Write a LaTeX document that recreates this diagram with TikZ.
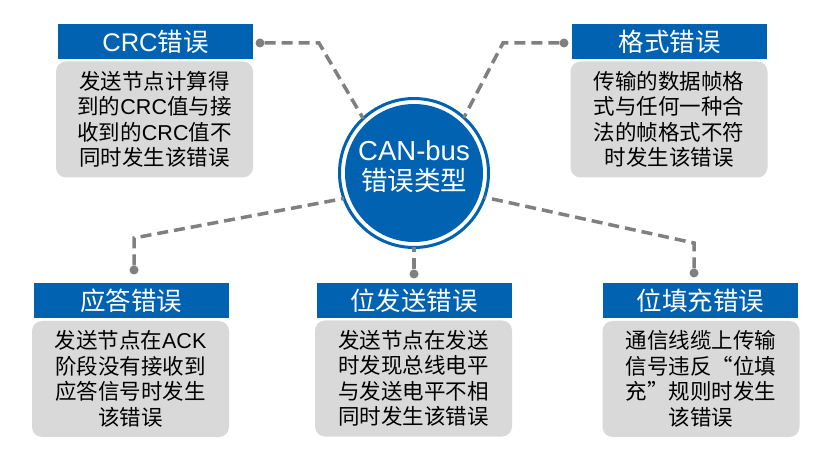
\documentclass[tikz,border=0pt]{standalone}
\usepackage{fontspec}
\setmainfont{Liberation Sans}
\newfontfamily\cjk{Noto Sans CJK SC}
\newfontfamily\lat{Liberation Sans}
\definecolor{mainblue}{RGB}{0,98,176}
\definecolor{boxgray}{RGB}{217,217,217}
\definecolor{linegray}{RGB}{128,128,128}
\begin{document}
\begin{tikzpicture}[x=1pt,y=-1pt,
 titlebar/.style={rectangle, fill=mainblue, text=white, minimum width=195pt, minimum height=35pt, inner sep=0pt, font=\cjk\fontsize{25.5}{28}\selectfont},
 bodybox/.style={rectangle, rounded corners=10pt, fill=boxgray, minimum width=197pt, minimum height=116pt, inner sep=0pt, align=center, text=black, font=\cjk\fontsize{21.5}{25.5}\selectfont},
 conn/.style={draw=linegray, line width=3.5pt, dash pattern=on 11pt off 6pt},
 dotc/.style={circle, fill=linegray, inner sep=0pt, minimum size=9pt}
]
\useasboundingbox (0,0) rectangle (831,457);
\fill[white] (0,0) rectangle (831,457);

% centre circle
\node[circle, draw=mainblue, line width=3pt, fill=white, minimum size=149pt, inner sep=0pt, outer sep=0pt] (circ) at (414,173) {};
\node[circle, fill=mainblue, minimum size=138pt, inner sep=0pt] (core) at (circ.center) {};
\node[text=white, align=center, font=\cjk\fontsize{26.5}{30}\selectfont] (ctext) at (414,167) {{\lat\fontsize{27.5}{30}\selectfont CAN-bus}\\错误类型};

% title bars
\node[titlebar] (t1) at (155.5,41.5) {{\lat CRC}错误};
\node[titlebar] (t2) at (669.5,41.5) {格式错误};
\node[titlebar] (t3) at (131,301) {应答错误};
\node[titlebar] (t4) at (414,300.5) {位发送错误};
\node[titlebar] (t5) at (700.5,301) {位填充错误};

% body boxes
\node[bodybox] (b1) at (154.5,119.5) {发送节点计算得\\到的{\lat CRC}值与接\\收到的{\lat CRC}值不\\同时发生该错误};
\node[bodybox] (b2) at (669,119.5) {传输的数据帧格\\式与任何一种合\\法的帧格式不符\\时发生该错误};
\node[bodybox] (b3) at (130.5,379) {发送节点在{\lat ACK}\\阶段没有接收到\\应答信号时发生\\该错误};
\node[bodybox] (b4) at (413.5,378.5) {发送节点在发送\\时发现总线电平\\与发送电平不相\\同时发生该错误};
\node[bodybox] (b5) at (701,379) {通信线缆上传输\\信号违反“位填\\充”规则时发生\\该错误};

% dots
\node[dotc] (d1) at (260,43) {};
\node[dotc] (d2) at (564,43) {};
\node[dotc] (d3) at (134,270) {};
\node[dotc] (d4) at (414,274) {};
\node[dotc] (d5) at (694,273) {};

% bends
\coordinate (k1) at (319,43);
\coordinate (k2) at (503,43);
\coordinate (k3) at (134,238);
\coordinate (k5) at (694,243);

% connectors
\draw[conn] (d1) -- (k1) -- (circ.133);
\draw[conn] (d2) -- (k2) -- (circ.48);
\draw[conn] (d3) -- (k3) -- (circ.200);
\draw[conn] (d4) -- (circ.south);
\draw[conn] (d5) -- (k5) -- (circ.341);
\end{tikzpicture}
\end{document}
